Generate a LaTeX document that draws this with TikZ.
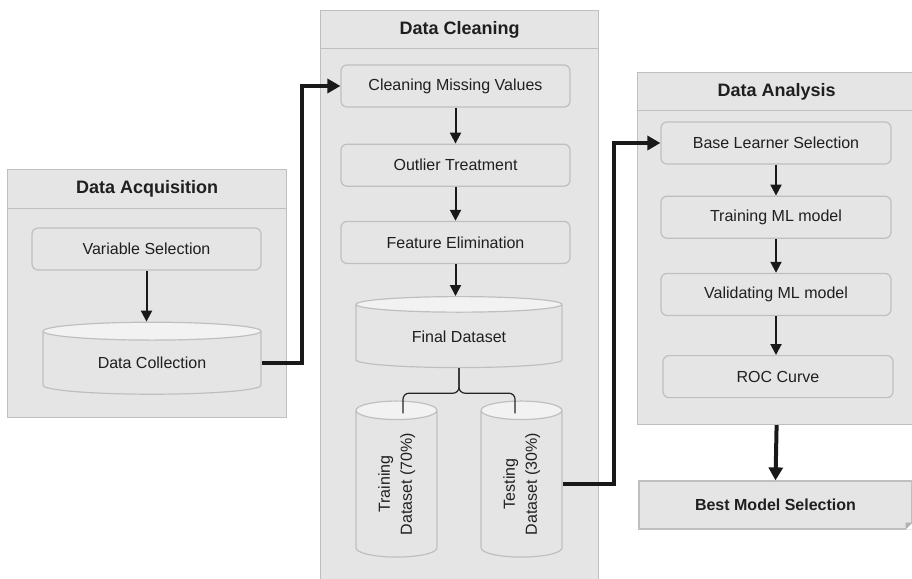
\documentclass[tikz,border=0pt]{standalone}
\usepackage{fontspec}
\setmainfont{Liberation Sans}
\usetikzlibrary{positioning,calc,shapes.geometric,arrows.meta}

\begin{document}
\begin{tikzpicture}[x=1pt, y=-1pt,
        panel/.style={
            rectangle, draw=black!25, line width=1.2pt, fill=black!10,
            anchor=north west, inner sep=0pt
        },
        panelhead/.style={panel, text=black!88, font=\fontsize{18}{21}\selectfont\bfseries},
        stepbox/.style={
            rectangle, rounded corners=6pt, draw=black!25, line width=1.2pt,
            fill=black!10, text=black!88,
            minimum width=229pt, minimum height=42pt, inner sep=0pt,
            font=\fontsize{16}{19}\selectfont
        },
        database/.style={
            cylinder, shape border rotate=90, draw=black!25, line width=1.2pt,
            cylinder uses custom fill, cylinder body fill=black!10, cylinder end fill=black!5,
            text=black!88, inner sep=0pt, font=\fontsize{16}{22}\selectfont
        },
        resultbox/.style={
            rectangle, draw=black!25, line width=1.2pt, fill=black!10, text=black!88,
            minimum width=273pt, minimum height=48pt, inner sep=0pt,
            font=\fontsize{16}{19}\selectfont\bfseries
        },
        flow/.style={-{Triangle[length=11pt,width=11pt]}, line width=2pt, black!90},
        bigflow/.style={-{Triangle[length=13pt,width=14pt]}, line width=4pt, black!90},
        split/.style={line width=1.2pt, black!85, rounded corners=6pt},
    ]

    \clip (0,0) rectangle (912,578);

    % data acquisition
    \node [panel, minimum width=279pt, minimum height=248pt] (acq) at (7,169) {};
    \node [panelhead, minimum width=279pt, minimum height=39pt] (acqhead) at (acq.north west) {Data Acquisition};

    \node [stepbox] (varsel) at (146.5,249) {Variable Selection};
    \node [database, minimum width=218pt, minimum height=72pt, aspect=0.165] (collect) [below=51pt of varsel, xshift=5.5pt] {Data Collection};
    \draw [flow] (varsel.south) -- (varsel.south |- collect.north);

    % data cleaning
    \node [panel, minimum width=278pt, minimum height=575pt] (clean) at (320,10) {};
    \node [panelhead, minimum width=278pt, minimum height=38pt] (cleanhead) at (clean.north west) {Data Cleaning};

    \node [stepbox] (missing) at (455.5,86) {Cleaning Missing Values};
    \node [stepbox] (outlier) [below=36pt of missing] {Outlier Treatment};
    \node [stepbox] (featelim) [below=34pt of outlier] {Feature Elimination};
    \node [database, minimum width=206pt, minimum height=71pt, aspect=0.165] (final) [below=32pt of featelim, xshift=3.5pt] {Final Dataset};
    \node [database, minimum width=81pt, minimum height=156pt, aspect=0.42] (train) at (396.5,484)
        {\rotatebox{90}{\begin{tabular}{@{}c@{}}Training\\Dataset (70\%)\end{tabular}}};
    \node [database, minimum width=81pt, minimum height=156pt, aspect=0.42] (test) at (521.5,484)
        {\rotatebox{90}{\begin{tabular}{@{}c@{}}Testing\\Dataset (30\%)\end{tabular}}};

    \draw [flow] (missing) -- (outlier);
    \draw [flow] (outlier) -- (featelim);
    \draw [flow] (featelim.south) -- (featelim.south |- final.north);

    \coordinate (fork) at ($(final.south)+(0,25)$);
    \draw [split] ([xshift=6.5pt,yshift=-13pt]train.north) |- (fork) -- (final.south);
    \draw [split] ([xshift=-6.5pt,yshift=-13pt]test.north) |- (fork) -- (final.south);

    \draw [bigflow] (collect.east) -- ++(40,0) |- (missing.west);

    % data analysis
    \node [panel, minimum width=278pt, minimum height=352pt] (ana) at (637,72) {};
    \node [panelhead, minimum width=278pt, minimum height=38pt] (anahead) at (ana.north west) {Data Analysis};

    \node [stepbox, minimum width=230pt] (base) at (776,143) {Base Learner Selection};
    \node [stepbox, minimum width=230pt] (trainml) [below=31pt of base] {Training ML model};
    \node [stepbox, minimum width=230pt] (validml) [below=34pt of trainml] {Validating ML model};
    \node [stepbox, minimum width=230pt] (roc) [below=39pt of validml, xshift=2pt] {ROC Curve};

    \draw [flow] (base) -- (trainml);
    \draw [flow] (trainml) -- (validml);
    \draw [flow] (validml.south) -- (validml.south |- roc.north);

    \draw [bigflow] (test.east) -- ++(51,0) |- (base.west);

    % result
    \node [resultbox] (best) at (775.5,505) {Best Model Selection};
    \fill [white] ($(best.south east)+(-7,0)$) -- (best.south east) -- ($(best.south east)+(0,-7)$) -- cycle;
    \fill [black!30] ($(best.south east)+(-7,0)$) -- ($(best.south east)+(0,-7)$) -- ($(best.south east)+(-7,-7)$) -- cycle;
    \draw [bigflow] (ana.south) -- (best.north);

\end{tikzpicture}
\end{document}
